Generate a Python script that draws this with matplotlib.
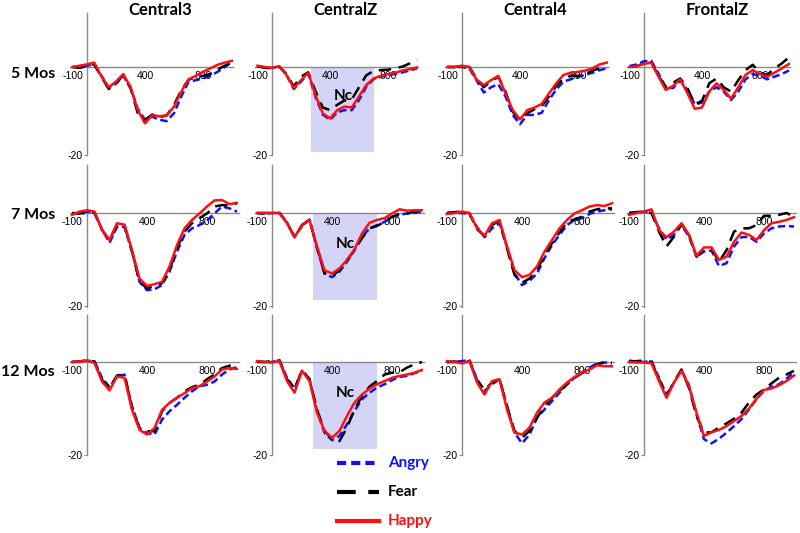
import numpy as np
import matplotlib.pyplot as plt
from matplotlib.lines import Line2D

# time base (ms) and amplitudes (uV)
times = [-100, -50, 0, 50, 100, 150, 200, 250, 300, 350, 400, 450, 500,
         550, 600, 650, 700, 750, 800, 850, 900, 950, 1000]

electrodes = ['Central3', 'CentralZ', 'Central4', 'FrontalZ']
ages = ['5 Mos', '7 Mos', '12 Mos']
emotions = ['Angry', 'Fear', 'Happy']

# 5 months
c3_5_angry = [0, 0, 0.3, 0.6, -2.0, -4.8, -3.8, -2.0, -4.7, -9.5, -12.0, -11.3, -12.0, -12.3, -10.5, -6.7, -3.4, -3.0, -2.6, -2.0, -1.1, 0.0, 1.2]
c3_5_fear = [0, -0.2, 0.2, 0.6, -2.3, -5.0, -3.7, -1.8, -4.8, -10.5, -12.0, -10.8, -11.4, -11.0, -8.6, -5.3, -2.9, -2.3, -2.0, -1.6, -0.6, 0.3, 1.0]
c3_5_happy = [0, 0.3, 0.6, 1.0, -2.2, -4.6, -3.3, -1.6, -4.5, -9.8, -12.8, -10.9, -11.2, -11.0, -9.0, -5.6, -2.8, -2.0, -1.1, -0.3, 0.5, 1.0, 1.4]
cz_5_angry = [0.2, -0.1, -0.2, 0.1, -1.8, -5.0, -3.3, -1.5, -6.8, -10.8, -12.0, -10.3, -9.8, -9.8, -7.5, -4.5, -2.8, -2.2, -1.8, -1.6, -1.2, -0.8, -0.3]
cz_5_fear = [0.2, -0.2, -0.3, 0.1, -1.6, -4.4, -2.2, -1.2, -5.5, -9.2, -9.8, -8.6, -7.6, -7.4, -4.6, -1.9, -0.9, -0.7, -0.6, -0.3, 0.1, 0.8, 1.7]
cz_5_happy = [0.3, 0, -0.2, 0.2, -1.8, -4.8, -3.0, -1.3, -6.4, -10.5, -11.7, -9.8, -9.0, -9.2, -6.7, -4.1, -2.6, -2.0, -1.6, -1.3, -0.8, -0.5, -0.1]
c4_5_angry = [0, 0, 0, -0.3, -3.0, -5.8, -4.6, -3.9, -6.7, -10.9, -13.0, -10.9, -10.9, -10.4, -7.5, -5.1, -3.3, -2.8, -2.2, -1.8, -1.3, -0.7, -0.3]
c4_5_fear = [0, 0, 0.3, 0, -2.6, -4.6, -3.3, -2.2, -5.6, -10.2, -12.0, -10.5, -9.6, -8.9, -6.7, -4.3, -2.6, -2.0, -2.0, -1.6, -0.8, -0.3, -0.3]
c4_5_happy = [0, 0, 0.3, 0, -2.8, -4.1, -3.0, -2.0, -6.0, -9.8, -11.9, -9.8, -9.2, -8.4, -6.0, -3.7, -1.8, -1.3, -1.1, -0.8, -0.3, 0.6, 1.0]
fz_5_angry = [0.2, 0.6, 1.3, 1.4, -1.5, -4.6, -4.8, -3.1, -5.2, -8.5, -8.1, -5.6, -4.6, -5.6, -7.5, -5.6, -2.8, -1.6, -2.0, -2.8, -2.2, -1.6, -0.8]
fz_5_fear = [0, 0.2, 0.8, 1.0, -2.0, -4.6, -3.6, -2.6, -4.8, -8.5, -7.7, -3.7, -2.6, -4.6, -5.6, -3.0, -0.7, 0.5, -1.3, -1.8, -0.3, 0.8, 2.2]
fz_5_happy = [0, 0.2, 0.7, 1.0, -2.2, -5.2, -4.3, -2.8, -6.0, -9.5, -9.2, -5.6, -3.7, -5.2, -7.2, -4.6, -1.8, -0.7, -1.6, -2.2, -1.3, -0.3, 0.7]

# 7 months
c3_7_angry = [-0.2, 0, 0.3, 0, -3.5, -6.4, -3.0, -3.0, -8.3, -14.8, -16.6, -16.4, -15.5, -12.6, -8.3, -4.7, -3.3, -2.6, -1.6, -0.1, 1.4, 1.0, 0.3]
c3_7_fear = [0, -0.1, 0, 0.1, -3.6, -5.9, -2.5, -2.7, -8.3, -14.8, -16.2, -15.7, -15.1, -12.3, -7.6, -4.0, -2.2, -1.1, -0.1, 1.4, 1.7, 1.6, 2.1]
c3_7_happy = [-0.4, 0.3, 0.6, 0.3, -3.7, -5.8, -2.2, -2.5, -8.0, -14.1, -15.7, -15.3, -14.8, -11.5, -6.9, -3.3, -1.5, -0.1, 1.4, 2.7, 2.8, 1.9, 2.2]
cz_7_angry = [0, -0.2, 0, 0, -2.0, -5.1, -2.8, -1.4, -7.6, -13.0, -13.8, -12.6, -10.5, -8.0, -5.1, -3.3, -2.6, -1.9, -0.9, -0.4, -0.1, 0, 0.3]
cz_7_fear = [0, 0, 0, 0, -2.1, -5.2, -2.6, -1.4, -7.4, -13.0, -13.5, -12.3, -10.1, -8.0, -5.4, -3.3, -2.8, -1.9, -0.8, -0.2, -0.1, 0.3, 0.6]
cz_7_happy = [0, 0, 0, 0, -2.2, -5.2, -2.6, -1.5, -7.2, -12.3, -13.0, -11.9, -10.1, -7.8, -4.4, -2.1, -1.5, -1.1, -0.1, 0.8, 0.5, 0.6, 0.6]
c4_7_angry = [0, 0, 0, -0.3, -3.0, -5.2, -3.3, -2.2, -7.4, -13.0, -15.5, -14.6, -13.0, -9.7, -6.9, -4.7, -2.6, -1.5, -1.1, -0.2, 0.3, 0.6, 0.8]
c4_7_fear = [0, 0.2, 0.3, -0.1, -3.5, -4.9, -2.6, -1.6, -7.6, -13.3, -15.0, -14.1, -12.3, -9.0, -6.5, -4.2, -1.9, -1.4, -0.8, 0.3, 0.8, 1.0, 1.0]
c4_7_happy = [-0.2, 0, 0.3, 0, -3.3, -4.9, -2.2, -1.5, -7.2, -12.3, -13.8, -13.3, -11.5, -8.3, -5.8, -3.3, -1.5, -0.1, 0.6, 1.4, 1.7, 1.5, 2.1]
fz_7_angry = [0, 0, 0.3, 0, -3.3, -5.7, -4.7, -2.6, -5.1, -9.4, -8.3, -8.1, -11.4, -10.8, -7.2, -5.2, -5.1, -6.2, -4.4, -3.3, -2.9, -2.8, -2.9]
fz_7_fear = [0, 0.2, 0.3, 0, -4.0, -7.2, -5.1, -2.4, -4.7, -9.4, -7.8, -7.6, -10.5, -8.0, -4.0, -3.3, -3.3, -2.6, -0.6, -0.6, -0.4, 0, -0.8]
fz_7_happy = [-0.4, 0, 0.3, 0.8, -3.7, -5.2, -4.0, -2.2, -4.7, -9.2, -7.4, -7.4, -10.1, -9.4, -6.2, -4.2, -4.7, -5.8, -3.7, -2.2, -1.9, -1.5, -0.9]

# 12 months
c3_12_angry = [0, 0.1, 0.3, 0.1, -3.4, -5.4, -3.1, -2.7, -9.5, -14.2, -15.3, -15.6, -12.4, -10.6, -9.2, -7.7, -6.3, -5.2, -4.9, -4.2, -2.7, -1.6, -1.1]
c3_12_fear = [0, 0.1, 0.4, 0.1, -3.8, -5.6, -2.9, -2.7, -9.9, -14.2, -14.9, -14.9, -10.6, -8.8, -7.7, -6.3, -5.4, -4.9, -3.7, -2.7, -1.3, -0.8, 0]
c3_12_happy = [0, 0.1, 0.3, -0.2, -4.2, -6.1, -3.1, -3.4, -10.3, -14.6, -15.6, -14.2, -10.3, -8.8, -7.7, -6.7, -5.6, -5.2, -4.2, -3.1, -1.6, -1.3, -1.5]
cz_12_angry = [0.1, 0, 0, 0.4, -3.4, -5.7, -1.9, -3.7, -10.5, -15.2, -16.8, -15.9, -13.4, -10.5, -8.0, -6.6, -5.5, -4.8, -3.9, -3.2, -3.0, -2.4, -1.9]
cz_12_fear = [0, 0, 0.2, 0.3, -3.7, -5.9, -1.7, -3.7, -10.2, -14.8, -16.6, -17.0, -14.1, -10.2, -7.3, -5.3, -4.1, -2.7, -2.3, -2.2, -1.2, -0.5, 0]
cz_12_happy = [0.2, 0, -0.1, 0.2, -4.1, -6.6, -1.9, -4.1, -10.9, -14.8, -16.3, -14.8, -11.6, -8.7, -7.0, -5.7, -4.8, -4.1, -3.4, -3.0, -2.7, -2.3, -1.7]
c4_12_angry = [0, 0, 0.2, 0.4, -3.7, -6.2, -4.8, -3.7, -9.5, -15.2, -17.5, -15.6, -12.0, -10.2, -8.4, -6.6, -4.8, -3.4, -2.2, -1.2, -0.3, -0.1, -0.3]
c4_12_fear = [0, 0.1, 0, 0.2, -3.9, -6.0, -4.4, -3.6, -9.5, -14.8, -16.3, -14.8, -12.0, -9.5, -7.7, -6.2, -4.8, -3.4, -2.4, -1.6, -0.5, -0.1, -0.1]
c4_12_happy = [0.2, 0, -0.3, 0.2, -4.4, -7.0, -4.1, -3.7, -10.2, -15.2, -15.6, -14.1, -10.9, -8.7, -7.7, -5.9, -4.4, -3.2, -2.3, -1.6, -0.7, -0.9, -0.9]
fz_12_angry = [0.3, 0.1, 0, 0.2, -3.4, -7.0, -4.4, -1.7, -5.0, -11.3, -16.6, -17.5, -16.5, -15.2, -13.8, -12.3, -10.2, -8.0, -6.2, -5.3, -4.8, -3.6, -2.2]
fz_12_fear = [0, 0.2, 0.3, 0, -3.7, -7.3, -4.3, -1.6, -5.6, -11.6, -15.2, -15.1, -14.1, -13.2, -12.2, -10.9, -8.7, -7.0, -5.9, -4.6, -3.4, -2.7, -1.9]
fz_12_happy = [0, -0.1, -0.1, -0.3, -4.1, -7.7, -4.4, -1.9, -5.2, -10.9, -15.9, -15.1, -14.6, -13.8, -12.7, -11.6, -10.0, -7.9, -6.0, -5.7, -5.0, -4.1, -2.9]

nc_window = (270, 700)

panels = [
    [(c3_5_angry, c3_5_fear, c3_5_happy), (cz_5_angry, cz_5_fear, cz_5_happy),
     (c4_5_angry, c4_5_fear, c4_5_happy), (fz_5_angry, fz_5_fear, fz_5_happy)],
    [(c3_7_angry, c3_7_fear, c3_7_happy), (cz_7_angry, cz_7_fear, cz_7_happy),
     (c4_7_angry, c4_7_fear, c4_7_happy), (fz_7_angry, fz_7_fear, fz_7_happy)],
    [(c3_12_angry, c3_12_fear, c3_12_happy), (cz_12_angry, cz_12_fear, cz_12_happy),
     (c4_12_angry, c4_12_fear, c4_12_happy), (fz_12_angry, fz_12_fear, fz_12_happy)],
]

styles = {
    'Angry': dict(color='#1010ff', ls=(0, (3, 1.5)), lw=1.8),
    'Fear': dict(color='black', ls=(0, (5, 3)), lw=1.8),
    'Happy': dict(color='#ff1010', ls='-', lw=1.8),
}

plt.rcParams['font.family'] = ['Liberation Sans', 'DejaVu Sans']
plt.rcParams['axes.unicode_minus'] = False

W, H = 800, 533
fig = plt.figure(figsize=(8, 5.33), dpi=100)

# pixel geometry of each row: ms->px, uV->px, zero line y, ylim
rows = [
    dict(xs=0.145, ys=4.4, y0=67, ylim=(-20, 12.3), nc_lo=-19.3),
    dict(xs=0.150, ys=4.65, y0=213, ylim=(-20.2, 10.3), nc_lo=-18.7),
    dict(xs=0.150, ys=4.65, y0=362, ylim=(-20, 10.2), nc_lo=-18.7),
]
col_x0 = [87, 272, 462, 644]
xlim = (-115, 1010)
t = np.array(times)

for r, g in enumerate(rows):
    for c in range(4):
        left = col_x0[c] + xlim[0] * g['xs']
        width = (xlim[1] - xlim[0]) * g['xs']
        top = g['y0'] - g['ylim'][1] * g['ys']
        height = (g['ylim'][1] - g['ylim'][0]) * g['ys']
        ax = fig.add_axes([left / W, 1 - (top + height) / H, width / W, height / H])
        ax.patch.set_alpha(0)
        ax.set_xlim(xlim)
        ax.set_ylim(g['ylim'])
        for side in ['top', 'right']:
            ax.spines[side].set_visible(False)
        for side in ['left', 'bottom']:
            ax.spines[side].set_position(('data', 0))
            ax.spines[side].set_color('#8a8a8a')
            ax.spines[side].set_linewidth(1.0)
        ax.set_xticks([-100, 400, 800])
        ax.set_yticks([-20])
        ax.tick_params(axis='x', length=0, labelsize=7.5, pad=3)
        ax.tick_params(axis='y', length=2, labelsize=7.5, pad=1, color='#8a8a8a')

        if c == 1:
            ax.fill_between(nc_window, g['nc_lo'], 0, color='#d4d4f7', lw=0, zorder=0)
            ax.text(490, -6.6, 'Nc', fontsize=11, fontweight='bold',
                    ha='center', va='center', family='Lato')

        for emo, vals in zip(emotions, panels[r][c]):
            ax.plot(t, vals, **styles[emo], zorder=3)

        if r == 0:
            fig.text((col_x0[c] + 505 * g['xs']) / W, 1 - 10 / H, electrodes[c],
                     fontsize=12, fontweight='bold', ha='center', va='center', family='Lato')

row_label_y = [74, 215, 372]
for r, lab in enumerate(ages):
    fig.text(55 / W, 1 - row_label_y[r] / H, lab, fontsize=11.5, fontweight='bold',
             ha='right', va='center', family='Lato')

# legend drawn by hand below the grid
leg_y = [463, 492, 521]
leg_col = {'Angry': '#1010ff', 'Fear': 'black', 'Happy': '#ff1010'}
leg_ls = {'Angry': (0, (2.2, 1.2)), 'Fear': (0, (4.5, 3)), 'Happy': '-'}
for emo, y in zip(emotions, leg_y):
    fig.add_artist(Line2D([337 / W, 379 / W], [1 - y / H, 1 - y / H],
                          color=leg_col[emo], ls=leg_ls[emo], lw=3))
    fig.text(388 / W, 1 - y / H, emo, color=leg_col[emo], fontsize=11,
             fontweight='bold', ha='left', va='center', family='Lato')

fig.savefig('out.png', dpi=100)
